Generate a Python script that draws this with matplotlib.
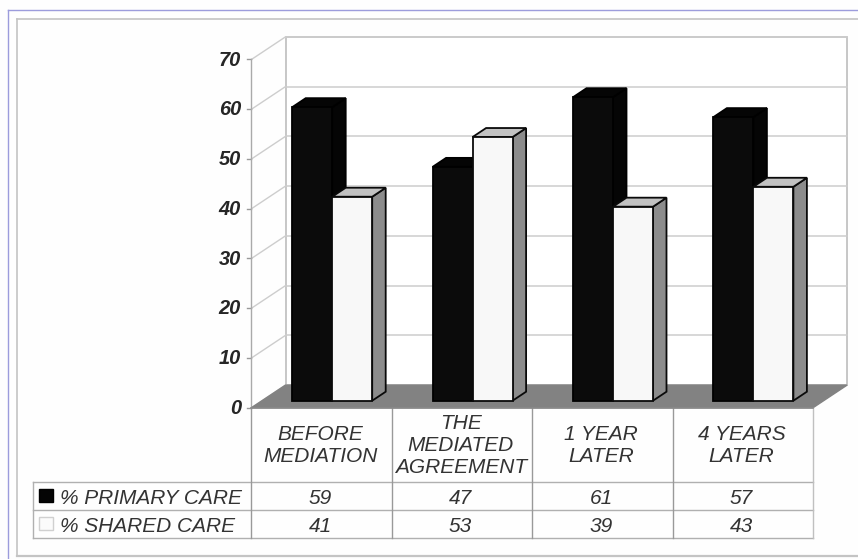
import matplotlib
matplotlib.use("Agg")
import matplotlib.pyplot as plt
from matplotlib.patches import Polygon, Rectangle
from matplotlib.lines import Line2D

categories = ["BEFORE\nMEDIATION", "THE\nMEDIATED\nAGREEMENT", "1 YEAR\nLATER", "4 YEARS\nLATER"]
primary = [59, 47, 61, 57]
shared = [41, 53, 39, 43]
series_names = ["% PRIMARY CARE", "% SHARED CARE"]
yticks = [0, 10, 20, 30, 40, 50, 60, 70]

W, H = 858, 559
X0, XW = 251.5, 140.4   # pixel of x=0, pixels per category
Y0, YU = 407.7, 4.975   # pixel of y=0, pixels per value unit

plt.rcParams["font.family"] = ["Liberation Sans", "DejaVu Sans"]
fig = plt.figure(figsize=(W / 100, H / 100), dpi=100, facecolor="#fefefe")
ax = fig.add_axes([0, 0, 1, 1])
ax.set_xlim(-X0 / XW, (W - X0) / XW)
ax.set_ylim(-(H - Y0) / YU, Y0 / YU)
ax.axis("off")

def xp(px):
    return (px - X0) / XW

def yp(py):
    return (Y0 - py) / YU

DX, DY = 34.0 / XW, 22.6 / YU        # floor depth
BX, BY = 10.5 / XW, 7.0 / YU         # bar front plane inset
SX, SY = 13.5 / XW, 9.0 / YU         # bar depth
BW = 40.0 / XW
N = len(categories)
TOP = yticks[-1]
GRID = "#cdcdcd"
TXT = "#333333"
FS = 15.0
TXT_DX = -1.5 / XW
TXT_DY = -2.5 / YU

# page furniture
def page_line(x1, y1, x2, y2, c, lw):
    fig.add_artist(Line2D([x1 / W, x2 / W], [1 - y1 / H, 1 - y2 / H], color=c, lw=lw))

page_line(7.5, 10.3, W, 10.3, "#9c9cdc", 1.0)
page_line(7.5, 10.3, 7.5, H, "#9c9cdc", 1.0)
page_line(17, 18.5, W, 18.5, "#c4c4c4", 1.2)
page_line(17, 18.5, 17, 556, "#c4c4c4", 1.2)
page_line(17, 556, W, 556, "#c4c4c4", 1.6)

# back wall, gridlines, left wall
ax.add_patch(Rectangle((DX, DY), N, TOP, fc="white", ec="#bdbdbd", lw=1.2, zorder=1))
for v in yticks:
    ax.plot([DX, N + DX], [v + DY, v + DY], color=GRID, lw=1.1, zorder=1.5)
    ax.plot([0, DX], [v, v + DY], color=GRID, lw=1.0, zorder=1.5)
    ax.plot([-4.5 / XW, 0], [v, v], color="#999999", lw=1.0, zorder=1.5)
    ax.text(-10.5 / XW, v - 0.7 / YU, str(v), ha="right", va="center", fontsize=14.4,
            fontweight="bold", fontstyle="italic", color="#262626", zorder=5)
ax.plot([0, 0], [0, TOP], color="#aaaaaa", lw=1.0, zorder=1.5)

# floor
ax.add_patch(Polygon([(0, 0), (N, 0), (N + DX, DY), (DX, DY)], closed=True,
                     fc="#828282", ec="#828282", lw=1.0, zorder=2))

def bar(left, value, front, top, side, edge, z):
    l = left + BX
    r = l + BW
    b = BY
    t = BY + value
    ax.add_patch(Polygon([(r, b), (r + SX, b + SY), (r + SX, t + SY), (r, t)], closed=True,
                         fc=side, ec=edge, lw=1.3, zorder=z))
    ax.add_patch(Polygon([(l, t), (r, t), (r + SX, t + SY), (l + SX, t + SY)], closed=True,
                         fc=top, ec=edge, lw=1.3, zorder=z))
    ax.add_patch(Rectangle((l, b), BW, value, fc=front, ec=edge, lw=1.3, zorder=z + 0.1))

for i in range(N):
    c = i + 0.5
    bar(c - BW, primary[i], "#0b0b0b", "#050505", "#050505", "#000000", 3 + i)
    bar(c, shared[i], "#f8f8f8", "#c2c2c2", "#8c8c8c", "#0a0a0a", 3.4 + i)

# data table
rows_px = [407.7, 481.7, 510.2, 537.7]
rows = [yp(p) for p in rows_px]
left_x = xp(33.5)
TL = "#b0b0b0"
ax.plot([0, N], [rows[0], rows[0]], color="#8a8a8a", lw=1.2, zorder=2.5)
ax.plot([left_x, N], [rows[1], rows[1]], color=TL, lw=1.0)
ax.plot([left_x, N], [rows[2], rows[2]], color=TL, lw=1.0)
ax.plot([left_x, N], [rows[3], rows[3]], color=TL, lw=1.0)
ax.plot([left_x, left_x], [rows[1], rows[3]], color=TL, lw=1.0)
for i in range(N + 1):
    ax.plot([i, i], [rows[0], rows[3]], color="#999999" if i < N else "#c0c0c0", lw=1.0)

for i, lab in enumerate(categories):
    ax.text(i + 0.5 + TXT_DX, (rows[0] + rows[1]) / 2 - 0.8 / YU, lab, ha="center", va="center",
            fontsize=FS, fontstyle="italic", color=TXT, linespacing=1.22)
    ax.text(i + 0.5 + TXT_DX, (rows[1] + rows[2]) / 2 + TXT_DY, str(primary[i]), ha="center",
            va="center", fontsize=FS, fontstyle="italic", color=TXT)
    ax.text(i + 0.5 + TXT_DX, (rows[2] + rows[3]) / 2 + TXT_DY, str(shared[i]), ha="center",
            va="center", fontsize=FS, fontstyle="italic", color=TXT)

swatches = [("#050505", "#000000"), ("#fbfbfb", "#d0d0d0")]
for k, (name, (fc, ec)) in enumerate(zip(series_names, swatches)):
    ym = (rows[k + 1] + rows[k + 2]) / 2
    hh = 6.5 / YU
    ax.add_patch(Rectangle((xp(39.5), ym - hh), 13.5 / XW, 2 * hh, fc=fc, ec=ec, lw=1.0))
    ax.text(xp(60), ym + TXT_DY, name, ha="left", va="center", fontsize=FS,
            fontstyle="italic", color=TXT)

fig.savefig("out.png", dpi=100, facecolor=fig.get_facecolor())
